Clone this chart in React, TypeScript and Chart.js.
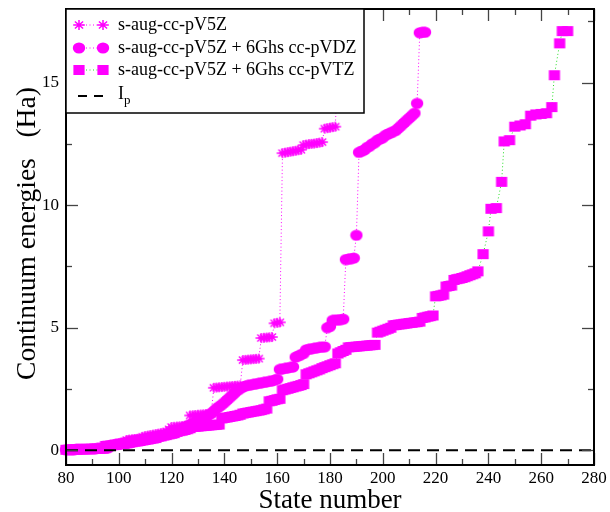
import { useEffect, useRef } from 'react';
import { Chart, registerables } from 'chart.js';

Chart.register(...registerables);

const FONT = "'Liberation Serif', 'Times New Roman', serif";
const MAGENTA = '#ff00ff';
const GREEN = '#22dd22';

const range = (a: number, b: number) => {
  const out: number[] = [];
  for (let i = a; i <= b; i++) out.push(i);
  return out;
};

// Axis tick labels
const xTickLabels = [80, 100, 120, 140, 160, 180, 200, 220, 240, 260, 280];
const yTickLabels = [0, 5, 10, 15];

// Legend texts
const seriesNames = [
  's-aug-cc-pV5Z',
  's-aug-cc-pV5Z + 6Ghs cc-pVDZ',
  's-aug-cc-pV5Z + 6Ghs cc-pVTZ',
];

// s-aug-cc-pV5Z
const starStates = range(80, 183);
const starEnergies = [
  0.02, 0.02, 0.03, 0.03, 0.04, 0.04, 0.05, 0.05, 0.06, 0.06, 0.07, 0.07, 0.08, 0.08, 0.09, 0.09, 0.1,
  0.22, 0.24, 0.26, 0.28, 0.3, 0.32,
  0.42, 0.44, 0.45, 0.46, 0.47, 0.48,
  0.55, 0.58, 0.6, 0.62, 0.64, 0.66, 0.68, 0.7, 0.72, 0.76,
  0.85, 0.95, 0.96, 0.97, 0.98, 0.99, 1.0, 1.0,
  1.42, 1.43, 1.44, 1.45, 1.46, 1.47, 1.48, 1.49, 1.5,
  2.55, 2.56, 2.57, 2.58, 2.59, 2.6, 2.61, 2.62, 2.63, 2.64, 2.65,
  3.68, 3.69, 3.7, 3.71, 3.72, 3.73, 3.74,
  4.58, 4.59, 4.6, 4.61, 4.62,
  5.18, 5.2, 5.22,
  12.12, 12.14, 12.16, 12.18, 12.2, 12.22, 12.24, 12.26,
  12.45, 12.47, 12.49, 12.5, 12.51, 12.53, 12.55, 12.57,
  13.12, 13.14, 13.16, 13.18, 13.2,
  15.6,
];

// s-aug-cc-pV5Z + 6Ghs cc-pVDZ
const circleStates = range(80, 216);
const circleEnergies = [
  0.02, 0.02, 0.03, 0.03, 0.04, 0.04, 0.05, 0.05, 0.06, 0.06, 0.07, 0.07, 0.08, 0.08, 0.09, 0.09, 0.1,
  0.2, 0.22, 0.24, 0.26, 0.28, 0.3, 0.32,
  0.36, 0.38, 0.4, 0.42, 0.44, 0.46, 0.48,
  0.5, 0.52, 0.54, 0.56, 0.58, 0.6, 0.62, 0.65,
  0.7, 0.73, 0.76, 0.79, 0.82, 0.85,
  0.95, 1.0, 1.05, 1.1, 1.15, 1.2,
  1.25, 1.3, 1.37, 1.44, 1.5,
  1.6, 1.7, 1.78, 1.86, 1.95,
  2.05, 2.15, 2.25, 2.35,
  2.45, 2.52, 2.58, 2.62,
  2.65, 2.67, 2.69, 2.71, 2.73, 2.75, 2.77, 2.79, 2.81, 2.83, 2.86, 2.9,
  3.3, 3.32, 3.34, 3.36, 3.38, 3.4,
  3.8, 3.85, 3.9, 3.95,
  4.1, 4.12, 4.14, 4.16, 4.18, 4.2, 4.21, 4.22,
  5.0, 5.05,
  5.3, 5.31, 5.32, 5.33, 5.35,
  7.78, 7.8, 7.82, 7.84,
  8.77,
  12.15, 12.2, 12.25, 12.35, 12.4, 12.5, 12.55, 12.65, 12.7, 12.75, 12.85, 12.9,
  12.95, 13.0, 13.05, 13.15, 13.25, 13.35, 13.45, 13.55, 13.65, 13.75, 14.15,
  17.03, 17.05, 17.05,
];

// s-aug-cc-pV5Z + 6Ghs cc-pVTZ
const squareStates = [
  ...range(80, 236),
  238, 240, 241, 243, 245, 246, 248, 250, 252, 254, 256, 258, 260, 262, 264, 265, 267, 268, 270,
];
const squareEnergies = [
  0.02, 0.02, 0.03, 0.03, 0.03, 0.04, 0.04, 0.04, 0.05, 0.05, 0.05, 0.06, 0.06, 0.06, 0.07,
  0.18, 0.19, 0.2, 0.21, 0.22, 0.24, 0.25, 0.26, 0.28, 0.3,
  0.33, 0.35, 0.36, 0.38, 0.4, 0.42, 0.44, 0.46, 0.48, 0.5,
  0.55, 0.57, 0.6, 0.62, 0.65, 0.67, 0.7,
  0.75, 0.78, 0.8, 0.83, 0.86, 0.9,
  0.95, 0.96, 0.97, 0.98, 0.99, 1.0, 1.01, 1.02, 1.03, 1.04, 1.05,
  1.3, 1.32, 1.34, 1.36, 1.38, 1.4, 1.42, 1.45,
  1.5, 1.52, 1.54, 1.56, 1.58, 1.6, 1.62, 1.64, 1.67, 1.7,
  2.0, 2.02, 2.05, 2.08, 2.1,
  2.45, 2.48, 2.51, 2.54, 2.57, 2.6, 2.63, 2.66, 2.7,
  3.1, 3.14, 3.18, 3.22, 3.26, 3.3,
  3.35, 3.39, 3.43, 3.47, 3.51, 3.55,
  3.95, 4.0, 4.05, 4.1,
  4.2, 4.21, 4.22, 4.23, 4.24, 4.25, 4.26, 4.27, 4.28, 4.29, 4.3,
  4.8, 4.84, 4.88, 4.92, 4.96, 5.0,
  5.1, 5.11, 5.13, 5.14, 5.16, 5.17, 5.19, 5.2, 5.22, 5.23, 5.25,
  5.4, 5.42, 5.45, 5.47, 5.5,
  6.28, 6.3, 6.32, 6.35,
  6.68, 6.7, 6.72,
  6.95, 6.98, 7.0, 7.03, 7.06, 7.1, 7.14, 7.18, 7.22, 7.3,
  8.0, 8.93, 9.85, 9.88, 10.95, 12.6, 12.65, 13.2, 13.25, 13.3,
  13.65, 13.7, 13.72, 13.75, 14.0, 15.3, 16.6, 17.1, 17.1,
];

// Ionisation potential reference line
const ipStates = [80, 280];
const ipEnergies = [0, 0];

const toPoints = (xs: number[], ys: number[]) => xs.map((x, i) => ({ x, y: ys[i] }));

type MarkerKind = 'star' | 'circle' | 'square';

function makeMarker(kind: MarkerKind): HTMLCanvasElement {
  const c = document.createElement('canvas');
  c.width = 14;
  c.height = 12;
  const g = c.getContext('2d')!;
  const cx = 7;
  const cy = 6;
  g.fillStyle = MAGENTA;
  g.strokeStyle = MAGENTA;
  if (kind === 'circle') {
    g.beginPath();
    g.ellipse(cx, cy, 6.2, 5.6, 0, 0, Math.PI * 2);
    g.fill();
  } else if (kind === 'square') {
    g.fillRect(cx - 5.6, cy - 5, 11.2, 10);
  } else {
    g.lineWidth = 1.5;
    g.beginPath();
    const rx = 5.8;
    const ry = 5;
    for (let k = 0; k < 4; k++) {
      const a = (k * Math.PI) / 4;
      g.moveTo(cx - rx * Math.cos(a), cy - ry * Math.sin(a));
      g.lineTo(cx + rx * Math.cos(a), cy + ry * Math.sin(a));
    }
    g.stroke();
  }
  return c;
}

export default function App() {
  const canvasRef = useRef<HTMLCanvasElement | null>(null);

  useEffect(() => {
    const canvas = canvasRef.current;
    if (!canvas) return;

    const markers = {
      star: makeMarker('star'),
      circle: makeMarker('circle'),
      square: makeMarker('square'),
    };

    const framePlugin = {
      id: 'frameTicks',
      afterDatasetsDraw(chart: any) {
        const { ctx, chartArea: a } = chart;
        const x = chart.scales.x;
        const y = chart.scales.y;
        const seg = (x1: number, y1: number, x2: number, y2: number) => {
          ctx.beginPath();
          ctx.moveTo(x1, y1);
          ctx.lineTo(x2, y2);
          ctx.stroke();
        };
        ctx.save();
        ctx.strokeStyle = '#444';
        ctx.lineWidth = 1.3;
        for (let v = x.min; v <= x.max; v += 10) {
          const px = Math.round(x.getPixelForValue(v)) + 0.5;
          const len = xTickLabels.includes(v) ? 12 : 6;
          seg(px, a.bottom, px, a.bottom - len);
          seg(px, a.top, px, a.top + len);
        }
        for (let v = 0; v <= y.max; v += 2.5) {
          const py = Math.round(y.getPixelForValue(v)) + 0.5;
          const len = yTickLabels.includes(v) ? 12 : 6;
          seg(a.left, py, a.left + len, py);
          seg(a.right, py, a.right - len, py);
        }
        ctx.strokeStyle = '#000';
        ctx.lineWidth = 2;
        ctx.strokeRect(a.left, a.top, a.right - a.left, a.bottom - a.top);
        ctx.restore();
      },
    };

    const legendPlugin = {
      id: 'boxLegend',
      afterDraw(chart: any) {
        const { ctx, chartArea: a } = chart;
        const l = a.left;
        const t = a.top;
        const r = 364;
        const b = 113;
        ctx.save();
        ctx.fillStyle = '#fff';
        ctx.fillRect(l, t, r - l, b - t);
        ctx.strokeStyle = '#000';
        ctx.lineWidth = 1.5;
        ctx.strokeRect(l, t, r - l, b - t);

        const rows = [25, 48, 70];
        const kinds: MarkerKind[] = ['star', 'circle', 'square'];
        const lineColors = [MAGENTA, MAGENTA, GREEN];
        const m1 = l + 13;
        const m2 = l + 37;
        const tx = l + 52;
        rows.forEach((ry, i) => {
          ctx.strokeStyle = lineColors[i];
          ctx.lineWidth = 1;
          ctx.setLineDash([1, 2.5]);
          ctx.beginPath();
          ctx.moveTo(m1, ry);
          ctx.lineTo(m2, ry);
          ctx.stroke();
          ctx.setLineDash([]);
          const mk = markers[kinds[i]];
          ctx.drawImage(mk, m1 - mk.width / 2, ry - mk.height / 2);
          ctx.drawImage(mk, m2 - mk.width / 2, ry - mk.height / 2);
          ctx.fillStyle = '#000';
          ctx.font = `18px ${FONT}`;
          ctx.textBaseline = 'middle';
          ctx.textAlign = 'left';
          ctx.fillText(seriesNames[i], tx, ry);
        });

        const iy = 96;
        ctx.strokeStyle = '#000';
        ctx.lineWidth = 2;
        ctx.setLineDash([9, 7]);
        ctx.beginPath();
        ctx.moveTo(m1 - 1, iy);
        ctx.lineTo(m2 + 1, iy);
        ctx.stroke();
        ctx.setLineDash([]);
        ctx.fillStyle = '#000';
        ctx.font = `18px ${FONT}`;
        ctx.textBaseline = 'middle';
        ctx.fillText('I', tx, iy - 2);
        const iw = ctx.measureText('I').width;
        ctx.font = `13px ${FONT}`;
        ctx.fillText('p', tx + iw, iy + 5);
        ctx.restore();
      },
    };

    const chart = new Chart(canvas, {
      type: 'line',
      data: {
        datasets: [
          {
            label: 'Ip',
            data: toPoints(ipStates, ipEnergies),
            borderColor: '#000',
            borderWidth: 2,
            borderDash: [12, 7],
            pointRadius: 0,
            order: 0,
          },
          {
            label: seriesNames[0],
            data: toPoints(starStates, starEnergies),
            borderColor: MAGENTA,
            borderWidth: 1,
            borderDash: [1, 2.5],
            pointStyle: markers.star,
            pointRadius: 6,
            order: 1,
          },
          {
            label: seriesNames[1],
            data: toPoints(circleStates, circleEnergies),
            borderColor: MAGENTA,
            borderWidth: 1,
            borderDash: [1, 2.5],
            pointStyle: markers.circle,
            pointRadius: 6,
            order: 2,
          },
          {
            label: seriesNames[2],
            data: toPoints(squareStates, squareEnergies),
            borderColor: GREEN,
            borderWidth: 1,
            borderDash: [1, 2.5],
            pointStyle: markers.square,
            pointRadius: 6,
            order: 3,
          },
        ],
      },
      options: {
        responsive: false,
        animation: false,
        events: [],
        clip: false as any,
        layout: { padding: { top: 9, right: 16, left: 0, bottom: 0 } },
        elements: { line: { tension: 0, fill: false } },
        plugins: {
          legend: { display: false },
          tooltip: { enabled: false },
        },
        scales: {
          x: {
            type: 'linear',
            min: 80,
            max: 280,
            afterBuildTicks: (s: any) => {
              s.ticks = xTickLabels.map((value) => ({ value }));
            },
            afterFit: (s: any) => {
              s.height = 47;
              s.paddingLeft = 0;
              s.paddingRight = 0;
            },
            grid: { display: false, drawTicks: false },
            border: { display: false },
            ticks: {
              color: '#000',
              font: { family: FONT, size: 17 },
              padding: 3,
              maxRotation: 0,
              autoSkip: false,
            },
            title: {
              display: true,
              text: 'State number',
              color: '#000',
              font: { family: FONT, size: 27, lineHeight: 0.8 },
              padding: 0,
            },
          },
          y: {
            type: 'linear',
            min: -0.6,
            max: 18,
            afterBuildTicks: (s: any) => {
              s.ticks = yTickLabels.map((value) => ({ value }));
            },
            afterFit: (s: any) => {
              s.width = 66;
              s.paddingTop = 0;
              s.paddingBottom = 0;
            },
            grid: { display: false, drawTicks: false },
            border: { display: false },
            ticks: {
              color: '#000',
              font: { family: FONT, size: 17 },
              padding: 7,
            },
            title: {
              display: true,
              text: ' Continuum energies   (Ha)',
              color: '#000',
              font: { family: FONT, size: 27.5, lineHeight: 1 },
              padding: { top: 14.5, bottom: 0 },
            },
          },
        },
      },
      plugins: [framePlugin, legendPlugin],
    } as any);

    return () => chart.destroy();
  }, []);

  return (
    <div style={{ position: 'absolute', left: 0, top: 0, width: 610, height: 512 }}>
      <canvas ref={canvasRef} width={610} height={512} style={{ display: 'block' }} />
    </div>
  );
}
